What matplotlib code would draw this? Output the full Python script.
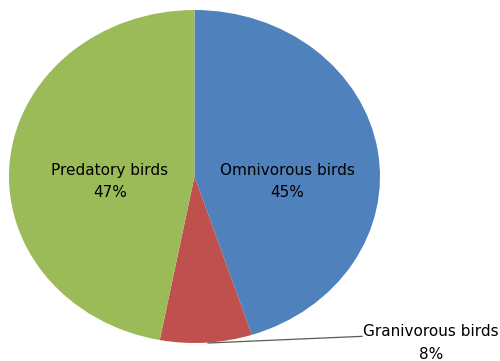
import matplotlib.pyplot as plt

groups = ['Omnivorous birds', 'Granivorous birds', 'Predatory birds']
shares = [45, 8, 47]
colors = ['#4f81bd', '#c0504d', '#9bbb59']

# label anchor points (data units of the unit pie)
label_pos = [(0.50, -0.03), (1.275, -1.0), (-0.456, -0.03)]

fig = plt.figure(figsize=(5, 3.61), dpi=100)
# the pie is drawn slightly squashed, so the axes box is not square
ax = fig.add_axes([9 / 500, 18 / 361, 371 / 500, 333 / 361])

ax.pie(shares, colors=colors, startangle=90, counterclock=False,
       radius=1, wedgeprops=dict(linewidth=0))
ax.set_aspect('auto')
ax.set_xlim(-1, 1)
ax.set_ylim(-1, 1)
ax.axis('off')

for name, val, (x, y) in zip(groups, shares, label_pos):
    ax.text(x, y, f'{name}\n{val}%', ha='center', va='center',
            fontsize=11, linespacing=1.6, color='black', clip_on=False)

# leader line for the small slice
ax.plot([0.073, 0.903], [-1.0, -0.96], color='#595959', lw=0.9,
        clip_on=False)

fig.savefig('out.png', dpi=100)
